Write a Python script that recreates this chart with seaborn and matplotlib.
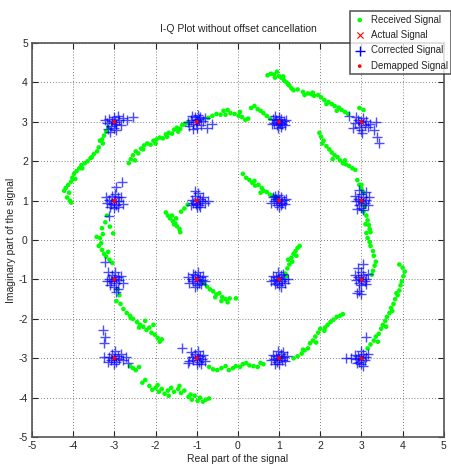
import matplotlib
matplotlib.use("Agg")
import matplotlib.pyplot as plt
import seaborn as sns

# ---- received signal (green dots) ----
recv_x = [
    # top arc right of (1,3) towards (3,3)
    0.72, 0.80, 0.88, 0.95, 1.00, 1.05, 1.10, 1.12, 1.18, 1.22, 1.30, 1.35, 1.45, 1.58,
    1.70, 1.78, 1.85, 1.82, 1.95, 2.02, 2.10, 2.20, 2.28, 2.35, 2.45, 2.52, 2.60, 2.68,
    2.95, 3.05, 0.90, 1.25, 1.62, 2.15, 2.40,
    # arc from (-2.6,2) up over the top
    -2.65, -2.60, -2.55, -2.48, -2.42, -2.35, -2.28, -2.20, -2.12, -2.05, -1.98, -1.90,
    -1.82, -1.75, -1.68, -1.60, -1.55, -1.48, -1.40, -1.35, -1.28, -1.20,
    -2.50, -2.30, -2.00, -1.72, -1.45,
    -0.72, -0.62, -0.52, -0.42, -0.35, -0.25, -0.18, -0.08, 0.02, 0.10, 0.18, 0.25,
    0.32, 0.40, 0.48, 0.55, 0.62, 0.70, 0.78, -0.30, 0.05,
    # far left arc
    -3.15, -3.20, -3.25, -3.30, -3.28, -3.38, -3.42, -3.50, -3.58, -3.65, -3.72, -3.80,
    -3.85, -3.92, -3.98, -4.02, -4.05, -4.12, -4.18, -4.22, -4.10, -4.15, -4.08, -4.05,
    -3.35, -3.55, -3.78, -3.95,
    # left vertical
    -3.18, -3.22, -3.30, -3.28, -3.35, -3.32, -3.38, -3.30, -3.25, -3.20, -3.12, -3.05,
    -3.15, -3.43, -3.11, -3.03,
    # (-3,-1) down to (-1.9,-2.6)
    -2.92, -2.88, -2.95, -2.85, -2.78, -2.70, -2.62, -2.55, -2.45, -2.38, -2.30, -2.22,
    -2.15, -2.10, -2.02, -1.95, -1.90, -1.85, -2.05, -2.25, -2.60, -2.40,
    # bottom arc
    -2.62, -2.55, -2.48, -2.40,
    -2.32, -2.25, -2.15, -2.08, -2.00, -1.92, -1.85, -1.78, -1.70, -1.62, -1.55, -1.45,
    -1.38, -1.30, -1.20, -1.12, -1.05, -0.98, -0.92, -0.85, -0.78, -0.70, -1.15,
    -1.95, -1.68, -1.42,
    # (-1,-3) to (1,-3)
    -0.70, -0.60, -0.50, -0.40, -0.30, -0.22, -0.12, -0.05, 0.05, 0.12, 0.20, 0.28,
    0.38, 0.48, 0.55, 0.62,
    # (1,-3) up to (2.5,-1.9)
    1.35, 1.45, 1.55, 1.62, 1.70, 1.75, 1.82, 1.88, 1.95, 2.00, 2.10, 2.18, 2.25, 2.32,
    2.40, 2.48, 2.55, 1.90, 1.58, 2.12,
    # (3,-3) up to (4,-0.6)
    3.15, 3.22, 3.30, 3.35, 3.42, 3.48, 3.52, 3.58, 3.62, 3.68, 3.72, 3.78, 3.82, 3.88,
    3.92, 3.95, 3.98, 4.02, 4.05, 4.00, 3.92, 3.60, 3.75, 3.40, 3.85,
    # right vertical
    2.90, 2.95, 3.00, 3.05, 3.02, 3.08, 3.05, 3.12, 3.15, 3.18, 3.20, 3.12, 3.15, 3.20,
    3.22, 3.28, 3.30, 3.35, 3.32, 3.28, 3.25, 3.10, 3.00, 3.22,
    # (2,2.7) to (2.9,1.8)
    1.98, 2.02, 2.08, 2.05, 2.15, 2.22, 2.28, 2.35, 2.42, 2.48, 2.55, 2.62, 2.70, 2.78,
    2.85, 2.30, 2.60,
    # inner tails
    0.12, 0.20, 0.28, 0.35, 0.42, 0.50, 0.58, 0.62, 0.70, 0.78, 0.85, 0.92, 0.40, 0.55,
    -1.75, -1.70, -1.65, -1.58, -1.52, -1.48, -1.42, -1.60, -1.50, -1.38, -1.30, -1.22,
    -1.40, -1.55,
    -0.82, -0.75, -0.68, -0.60, -0.52, -0.45, -0.38, -0.30, -0.25, -0.20, -0.05, -0.55,
    -0.40,
    1.15, 1.20, 1.25, 1.22, 1.30, 1.35, 1.40, 1.45, 1.50, 1.32, 1.42, 1.18,
]
recv_y = [
    4.18, 4.22, 4.20, 4.27, 4.16, 4.12, 4.15, 4.05, 4.00, 3.95, 3.85, 3.80, 3.82, 3.76,
    3.72, 3.70, 3.66, 3.74, 3.68, 3.62, 3.55, 3.50, 3.45, 3.40, 3.36, 3.30, 3.25, 3.20,
    3.35, 3.30, 4.12, 3.92, 3.68, 3.45, 3.28,
    1.95, 2.05, 2.15, 2.25, 2.20, 2.32, 2.40, 2.45, 2.42, 2.52, 2.55, 2.60,
    2.58, 2.68, 2.72, 2.70, 2.80, 2.85, 2.82, 2.92, 2.95, 2.98,
    2.02, 2.30, 2.45, 2.62, 2.75,
    3.10, 3.15, 3.20, 3.18, 3.28, 3.30, 3.22, 3.20, 3.15, 3.12, 3.05, 3.08,
    3.35, 3.40, 3.32, 3.28, 3.22, 3.15, 3.08, 3.18, 3.25,
    2.85, 2.75, 2.65, 2.55, 2.45, 2.35, 2.25, 2.18, 2.08, 2.00, 1.95, 1.90,
    1.82, 1.75, 1.68, 1.58, 1.48, 1.40, 1.32, 1.25, 1.20, 1.08, 1.00, 0.95,
    2.52, 2.10, 1.82, 1.55,
    0.62, 0.45, 0.30, 0.15, 0.05, -0.08, -0.15, -0.25, -0.35, -0.42, -0.50, -0.58,
    -0.30, 0.08, 0.34, 0.17,
    -1.25, -1.40, -1.55, -1.62, -1.75, -1.85, -1.92, -2.00, -2.08, -2.15, -2.20, -2.28,
    -2.22, -2.35, -2.40, -2.48, -2.58, -2.52, -2.15, -2.05, -1.98, -2.22,
    -3.20, -3.25, -3.30, -3.22,
    -3.62, -3.55, -3.70, -3.80, -3.75, -3.85, -3.78, -3.90, -3.82, -3.75, -3.85, -3.78,
    -3.88, -3.82, -3.98, -4.05, -3.95, -4.08, -4.00, -4.10, -4.05, -4.02, -3.92,
    -3.68, -3.95, -3.70,
    -3.22, -3.28, -3.30, -3.25, -3.20, -3.30, -3.25, -3.20, -3.22, -3.15, -3.12, -3.18,
    -3.20, -3.22, -3.12, -3.15,
    -3.00, -2.95, -2.88, -2.80, -2.75, -2.62, -2.55, -2.45, -2.35, -2.25, -2.30, -2.15,
    -2.08, -2.02, -1.95, -1.92, -1.88, -2.60, -2.78, -2.22,
    -2.75, -2.65, -2.55, -2.45, -2.38, -2.25, -2.15, -2.05, -1.95, -1.85, -1.72, -1.62,
    -1.50, -1.40, -1.28, -1.15, -1.05, -0.92, -0.80, -0.70, -0.62, -2.20, -1.80, -2.58, -1.35,
    1.52, 1.40, 1.30, 1.20, 0.95, 0.85, 0.72, 0.62, 0.50, 0.38, 0.28, 0.18, 0.05, -0.05,
    -0.15, -0.28, -0.40, -0.55, -0.65, -0.78, -0.88, 0.40, 1.40, 0.20,
    2.72, 2.62, 2.52, 2.45, 2.38, 2.30, 2.22, 2.15, 2.10, 2.02, 1.95, 1.92, 1.88, 1.82,
    1.78, 2.05, 2.02,
    1.68, 1.58, 1.52, 1.45, 1.38, 1.40, 1.32, 1.25, 1.22, 1.15, 1.12, 1.08, 1.50, 1.20,
    0.70, 0.62, 0.55, 0.48, 0.42, 0.35, 0.28, 0.62, 0.55, 0.72, 0.80, 0.90,
    0.20, 0.40,
    -1.10, -1.18, -1.25, -1.30, -1.38, -1.35, -1.45, -1.50, -1.58, -1.48, -1.48, -1.45,
    -1.55,
    -0.85, -0.72, -0.62, -0.50, -0.45, -0.35, -0.28, -0.20, -0.15, -0.55, -0.40, -0.92,
]

# ---- corrected signal (blue +), one block per constellation point ----
corr_x = [
    -3.05, -2.95, -3.12, -2.88, -3.00, -3.08, -2.92, -3.18, -2.85, -3.02, -2.96, -3.15, -2.80, -2.70, -2.55, -3.22, -2.98, -3.10,
    -1.02, -0.95, -1.10, -0.90, -1.05, -1.15, -0.85, -1.00, -0.98, -1.18, -0.92, -1.08, -0.80, -1.22, -1.00, -0.62, -0.75, -1.12,
    1.00, 0.92, 1.08, 0.95, 1.05, 0.88, 1.12, 1.00, 0.98, 1.15, 0.85, 1.05, 0.90, 1.18, 1.02, 0.82,
    3.00, 2.92, 3.08, 2.95, 3.05, 2.85, 3.12, 2.98, 3.15, 2.88, 3.02, 3.20, 2.70, 3.35, 3.30, 3.38, 3.42, 2.80,
    -3.00, -2.92, -3.08, -2.95, -3.05, -3.12, -2.88, -3.00, -2.98, -3.18, -2.85, -3.10, -2.90, -3.20, -2.82, -2.95, -3.12, -2.78,
    -1.00, -0.92, -1.08, -0.95, -1.05, -0.88, -1.12, -1.00, -0.98, -0.80, -0.72, -1.15, -0.85, -0.92, -1.05, -1.02,
    1.00, 0.92, 1.08, 0.95, 1.05, 0.88, 1.12, 1.00, 0.98, 1.15, 0.85, 1.05, 0.90, 1.18, 0.80,
    3.00, 2.92, 3.08, 2.95, 3.05, 2.88, 3.12, 3.00, 2.98, 3.15, 2.85, 3.05, 3.10, 2.90, 3.18, 2.95,
    -3.00, -2.92, -3.08, -2.95, -3.05, -3.12, -2.88, -3.00, -2.98, -3.18, -2.85, -3.10, -2.80, -3.15, -2.90, -2.95, -3.22,
    -1.00, -0.92, -1.08, -0.95, -1.05, -1.12, -0.88, -1.00, -0.98, -1.18, -0.85, -1.10, -0.90, -1.22, -0.80, -1.05,
    1.00, 0.92, 1.08, 0.95, 1.05, 0.88, 1.12, 1.00, 0.98, 1.15, 0.85, 1.10, 0.90, 1.22, 0.80, 1.05,
    3.00, 2.92, 3.08, 2.95, 3.05, 2.88, 3.12, 3.00, 2.98, 3.15, 2.85, 2.95, 3.00, 2.90, 3.05, 2.92, 3.10,
    -3.00, -2.92, -3.08, -2.95, -3.05, -3.12, -2.88, -3.00, -2.98, -2.80, -2.72, -3.15, -2.85, -2.68, -3.28, -3.22, -3.26, -3.25,
    -1.00, -0.92, -1.08, -0.95, -1.05, -1.12, -0.88, -1.00, -0.98, -1.18, -0.85, -0.80, -1.15, -0.90, -1.35, -1.20,
    1.00, 0.92, 1.08, 0.95, 1.05, 0.88, 1.12, 1.00, 0.98, 1.15, 0.85, 1.10, 0.90, 1.20, 0.80,
    3.00, 2.92, 3.08, 2.95, 3.05, 2.88, 3.12, 3.00, 2.98, 3.15, 2.85, 2.75, 2.62, 3.10, 3.05, 2.90,
]
corr_y = [
    3.02, 2.95, 3.08, 3.05, 2.85, 2.90, 3.15, 2.98, 2.92, 3.12, 2.80, 2.82, 3.10, 3.05, 3.12, 3.05, 3.00, 2.75,
    3.00, 3.08, 2.95, 2.92, 3.12, 3.05, 3.02, 2.85, 3.18, 2.90, 3.12, 2.82, 3.10, 3.00, 3.05, 2.95, 2.85, 3.15,
    3.00, 3.05, 2.95, 2.92, 3.08, 2.98, 3.02, 3.12, 2.85, 2.92, 3.08, 2.88, 3.15, 3.05, 2.98, 2.95,
    3.00, 3.05, 2.92, 2.88, 3.10, 2.98, 3.02, 2.80, 2.88, 3.12, 2.72, 2.95, 3.15, 3.00, 2.80, 2.62, 2.45, 2.85,
    1.00, 1.08, 0.92, 0.90, 1.12, 1.02, 0.98, 0.82, 1.18, 0.95, 1.10, 0.85, 0.85, 1.08, 1.48, 1.35, 0.60, 0.92,
    1.00, 1.05, 0.95, 0.90, 1.12, 0.98, 1.02, 0.85, 1.20, 0.95, 1.00, 0.90, 1.10, 0.85, 1.25, 0.92,
    1.00, 1.05, 0.95, 0.90, 1.10, 0.98, 1.02, 0.85, 1.15, 0.92, 1.08, 0.88, 1.12, 1.05, 0.95,
    1.00, 1.05, 0.95, 0.90, 1.10, 0.98, 1.02, 0.82, 1.18, 0.90, 1.12, 0.75, 1.22, 0.80, 1.10, 1.28,
    -1.00, -0.95, -1.05, -1.10, -0.88, -0.98, -1.02, -1.18, -0.82, -1.05, -0.90, -1.15, -1.08, -0.80, -1.25, -1.32, -0.55,
    -1.00, -0.95, -1.05, -1.10, -0.88, -0.98, -1.02, -1.15, -0.82, -1.08, -0.92, -0.85, -1.12, -0.95, -1.05, -1.20,
    -1.00, -0.95, -1.05, -1.10, -0.88, -1.02, -0.98, -1.15, -0.82, -1.08, -0.92, -0.85, -1.12, -1.00, -1.05, -1.18,
    -1.00, -0.95, -1.05, -1.10, -0.88, -1.02, -0.98, -0.80, -1.15, -0.85, -0.88, -1.30, -1.38, -1.35, -0.62, -0.70, -1.12,
    -3.00, -2.95, -3.05, -3.10, -2.88, -2.98, -3.02, -3.15, -2.82, -3.05, -2.98, -3.10, -2.88, -3.12, -2.28, -2.45, -2.62, -2.98,
    -3.00, -2.95, -3.05, -3.10, -2.88, -2.98, -3.02, -3.15, -2.82, -3.08, -2.92, -3.08, -2.85, -3.15, -2.75, -3.12,
    -3.00, -2.95, -3.05, -3.10, -2.88, -3.02, -2.98, -3.15, -2.82, -3.08, -2.92, -2.85, -3.15, -2.95, -3.05,
    -3.00, -2.95, -3.05, -3.10, -2.88, -3.02, -2.98, -3.15, -2.82, -2.90, -2.92, -3.00, -3.00, -2.45, -3.20, -3.12,
]

# ---- ideal 16-QAM points: actual (red x) and demapped (red dot) ----
qam_x = [-3, -1, 1, 3, -3, -1, 1, 3, -3, -1, 1, 3, -3, -1, 1, 3]
qam_y = [3, 3, 3, 3, 1, 1, 1, 1, -1, -1, -1, -1, -3, -3, -3, -3]

ticks = [-5, -4, -3, -2, -1, 0, 1, 2, 3, 4, 5]

sns.set_style("white")
plt.rcParams["font.family"] = ["Liberation Sans", "DejaVu Sans"]
plt.rcParams["axes.unicode_minus"] = False

fig = plt.figure(figsize=(4.51, 4.67), dpi=100)
ax = fig.add_axes([0.071, 0.064, 0.913, 0.844])

sns.scatterplot(x=recv_x, y=recv_y, ax=ax, color="#00ff00", marker="o", s=11,
                edgecolor="none", label="Received Signal", zorder=2)
sns.scatterplot(x=qam_x, y=qam_y, ax=ax, color="#ff0000", marker="x", s=20,
                linewidth=0.8, label="Actual Signal", zorder=3)
sns.scatterplot(x=corr_x, y=corr_y, ax=ax, color="#0000ff", marker="+", s=60,
                linewidth=1.0, alpha=0.7, label="Corrected Signal", zorder=4)
sns.scatterplot(x=qam_x, y=qam_y, ax=ax, color="#ff0000", marker="o", s=7,
                edgecolor="none", label="Demapped Signal", zorder=5)

ax.set_xlim(-5, 5)
ax.set_ylim(-5, 5)
ax.set_xticks(ticks)
ax.set_yticks(ticks)
ax.tick_params(direction="in", length=4, width=0.8, labelsize=7.5,
               top=True, right=True, bottom=True, left=True, pad=3)
ax.grid(True, linestyle=(0, (1, 2.5)), color="#555555", linewidth=0.6)
for sp in ax.spines.values():
    sp.set_color("#555555")
    sp.set_linewidth(1.2)

ax.set_title("I-Q Plot without offset cancellation", fontsize=7.5, pad=8)
ax.set_xlabel("Real part of the signal", fontsize=7.5, labelpad=2)
ax.set_ylabel("Imaginary part of the signal", fontsize=7.5, labelpad=2)

leg = ax.legend(loc="upper left", bbox_to_anchor=(0.776, 0.976),
                bbox_transform=fig.transFigure, fontsize=7, frameon=True,
                fancybox=False, borderaxespad=0, handletextpad=0.5,
                labelspacing=0.55, borderpad=0.35, handlelength=1.3)
leg.get_frame().set_edgecolor("#333333")
leg.get_frame().set_linewidth(1.2)
for h in leg.legend_handles:
    h.set_alpha(1)

fig.savefig("out.png", dpi=100)
